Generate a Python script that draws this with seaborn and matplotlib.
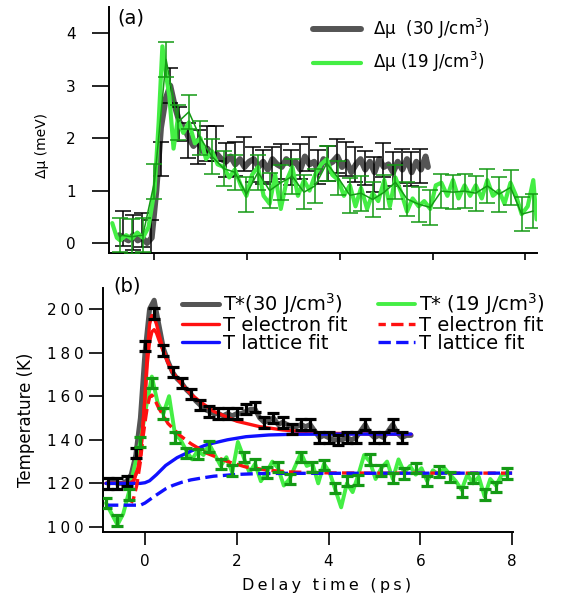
import numpy as np
import matplotlib
matplotlib.use("Agg")
import matplotlib.pyplot as plt
import seaborn as sns

# ------------------------------------------------------------------ panel (a)
top_t_gray = [-0.75, -0.65, -0.55, -0.45, -0.35, -0.25, -0.15, -0.05, 0.05, 0.15,
              0.25, 0.35, 0.45, 0.55, 0.65, 0.75, 0.85, 0.95, 1.05, 1.15,
              1.25, 1.35, 1.45, 1.55, 1.65, 1.75, 1.85, 1.95, 2.05, 2.15,
              2.25, 2.35, 2.45, 2.55, 2.65, 2.75, 2.85, 2.95, 3.05, 3.15,
              3.25, 3.35, 3.45, 3.55, 3.65, 3.75, 3.85, 3.95, 4.05, 4.15,
              4.25, 4.35, 4.45, 4.55, 4.65, 4.75, 4.85, 4.95, 5.05, 5.15,
              5.25, 5.35, 5.45, 5.55, 5.65, 5.75, 5.85, 5.9]
top_mu_gray = [0.15, 0.10, 0.05, 0.15, 0.05, 0.10, 0.00, 0.10, 1.00, 2.20,
               2.75, 3.00, 2.60, 2.30, 2.20, 2.00, 1.85, 1.95, 1.75, 1.80,
               1.65, 1.70, 1.60, 1.55, 1.65, 1.50, 1.60, 1.45, 1.55, 1.60,
               1.45, 1.55, 1.40, 1.60, 1.50, 1.45, 1.60, 1.50, 1.55, 1.40,
               1.65, 1.50, 1.55, 1.35, 1.60, 1.50, 1.55, 1.65, 1.45, 1.55,
               1.35, 1.50, 1.60, 1.40, 1.55, 1.35, 1.60, 1.45, 1.50, 1.35,
               1.55, 1.40, 1.60, 1.35, 1.55, 1.40, 1.65, 1.45]

top_t_black = [-0.66, -0.46, -0.26, -0.06, 0.14, 0.34, 0.54, 0.74, 0.94, 1.14,
               1.34, 1.54, 1.74, 1.94, 2.14, 2.34, 2.54, 2.74, 2.94, 3.14,
               3.34, 3.54, 3.74, 3.94, 4.14, 4.34, 4.54, 4.74, 4.94, 5.14,
               5.34, 5.54, 5.74]
top_mu_black = [0.28, 0.20, 0.25, 0.10, 1.60, 3.00, 2.27, 1.95, 1.83, 1.90,
                1.90, 1.58, 1.60, 1.70, 1.50, 1.45, 1.50, 1.55, 1.44, 1.55,
                1.70, 1.45, 1.52, 1.66, 1.60, 1.50, 1.43, 1.31, 1.58, 1.41,
                1.47, 1.41, 1.47]

top_t_lgreen = [-0.90, -0.80, -0.73, -0.60, -0.48, -0.36, -0.24, -0.12, 0.01, 0.10,
                0.18, 0.26, 0.33, 0.42, 0.51, 0.63, 0.75, 0.88, 1.00, 1.12,
                1.25, 1.37, 1.50, 1.62, 1.74, 1.87, 1.99, 2.11, 2.24, 2.36,
                2.49, 2.61, 2.73, 2.86, 2.98, 3.10, 3.23, 3.35, 3.47, 3.60,
                3.72, 3.84, 3.97, 4.09, 4.22, 4.34, 4.46, 4.59, 4.71, 4.83,
                4.96, 5.08, 5.20, 5.33, 5.45, 5.57, 5.70, 5.82, 5.95, 6.07,
                6.19, 6.32, 6.44, 6.56, 6.69, 6.81, 6.93, 7.06, 7.18, 7.30,
                7.43, 7.55, 7.68, 7.80, 7.92, 8.05, 8.17, 8.24]
top_mu_lgreen = [0.38, 0.10, 0.05, 0.15, 0.08, 0.20, 0.10, 0.30, 1.00, 2.30,
                 3.75, 3.20, 2.80, 1.80, 2.35, 2.10, 2.30, 1.90, 2.00, 1.60,
                 1.75, 1.50, 1.45, 1.25, 1.40, 1.10, 0.90, 1.30, 1.45, 0.90,
                 0.75, 1.30, 0.65, 1.20, 1.45, 0.90, 1.20, 1.00, 1.30, 1.50,
                 1.60, 1.30, 1.20, 0.90, 1.10, 0.70, 1.05, 0.65, 0.95, 0.80,
                 1.20, 0.70, 1.25, 0.95, 0.60, 0.85, 0.70, 0.80, 0.65, 1.10,
                 1.15, 0.90, 1.20, 0.85, 1.10, 0.90, 1.10, 0.85, 1.20, 0.90,
                 1.00, 0.75, 1.15, 0.90, 0.55, 0.70, 1.20, 0.45]

top_t_dgreen = [-0.73, -0.48, -0.24, 0.01, 0.26, 0.51, 0.75, 1.00, 1.25, 1.50,
                1.74, 1.99, 2.24, 2.49, 2.73, 2.98, 3.23, 3.47, 3.72, 3.97,
                4.22, 4.46, 4.71, 4.96, 5.20, 5.45, 5.70, 5.95, 6.19, 6.44,
                6.69, 6.93, 7.18, 7.43, 7.68, 7.92, 8.17]
top_mu_dgreen = [0.15, 0.12, 0.15, 1.17, 3.50, 2.30, 2.50, 2.00, 1.65, 1.42,
                 1.35, 0.93, 1.35, 1.00, 1.15, 1.27, 0.97, 1.09, 1.52, 1.24,
                 0.91, 0.95, 0.83, 0.97, 1.16, 0.84, 0.74, 0.68, 0.99, 0.97,
                 0.99, 0.95, 1.09, 0.93, 1.06, 0.55, 0.61]
top_err = 0.33

top_labels = ["\u0394\u03bc  (30 J/cm$^3$)", "\u0394\u03bc (19 J/cm$^3$)"]
top_yticks = [0, 1, 2, 3, 4]
top_xticks = [0, 2, 4, 6, 8]

# ------------------------------------------------------------------ panel (b)
bot_t_gray = [-0.8, -0.7, -0.6, -0.5, -0.4, -0.3, -0.2, -0.1, 0.0, 0.1,
              0.2, 0.3, 0.4, 0.5, 0.6, 0.7, 0.8, 0.9, 1.0, 1.1,
              1.2, 1.3, 1.4, 1.5, 1.6, 1.7, 1.8, 1.9, 2.0, 2.1,
              2.2, 2.3, 2.4, 2.5, 2.6, 2.7, 2.8, 2.9, 3.0, 3.1,
              3.2, 3.3, 3.4, 3.5, 3.6, 3.7, 3.8, 3.9, 4.0, 4.1,
              4.2, 4.3, 4.4, 4.5, 4.6, 4.7, 4.8, 4.9, 5.0, 5.1,
              5.2, 5.3, 5.4, 5.5, 5.6, 5.7, 5.8]
bot_T_gray = [120, 121, 120, 120, 121, 124, 133, 150, 180, 200,
              204, 193, 182, 176, 171, 168, 166, 163, 161, 158,
              156, 154, 153, 152, 152, 151, 152, 151, 152, 152,
              153, 154, 154, 150, 148, 149, 150, 147, 148, 147,
              146, 146, 147, 146, 147, 144, 141, 142, 141, 140,
              140, 140, 141, 140, 141, 144, 147, 143, 141, 142,
              141, 144, 147, 143, 141, 142, 142]

bot_t_black = [-0.8, -0.6, -0.4, -0.2, 0.0, 0.2, 0.4, 0.6, 0.8, 1.0,
               1.2, 1.4, 1.6, 1.8, 2.0, 2.2, 2.4, 2.6, 2.8, 3.0,
               3.2, 3.4, 3.6, 3.8, 4.0, 4.2, 4.4, 4.6, 4.8, 5.0,
               5.2, 5.4, 5.6]
bot_T_black = [120, 120, 121, 134, 183, 198, 181, 171, 166, 161,
               156, 153, 152, 152, 152, 154, 155, 148, 150, 148,
               145, 147, 147, 141, 141, 140, 141, 141, 147, 141,
               141, 147, 141]

bot_t_lgreen = [-0.85, -0.725, -0.6, -0.475, -0.35, -0.225, -0.1, 0.025, 0.15, 0.275,
                0.4, 0.525, 0.65, 0.775, 0.9, 1.025, 1.15, 1.275, 1.4, 1.525,
                1.65, 1.775, 1.9, 2.025, 2.15, 2.275, 2.4, 2.525, 2.65, 2.775,
                2.9, 3.025, 3.15, 3.275, 3.4, 3.525, 3.65, 3.775, 3.9, 4.025,
                4.15, 4.275, 4.4, 4.525, 4.65, 4.775, 4.9, 5.025, 5.15, 5.275,
                5.4, 5.525, 5.65, 5.775, 5.9, 6.025, 6.15, 6.275, 6.4, 6.525,
                6.65, 6.775, 6.9, 7.025, 7.15, 7.275, 7.4, 7.525, 7.65, 7.775,
                7.9]
bot_T_lgreen = [111, 106, 101, 106, 116, 128, 139, 155, 169, 157,
                152, 160, 143, 140, 135, 131, 135, 133, 138, 133,
                128, 132, 125, 139, 132, 125, 129, 121, 125, 130,
                127, 119, 122, 128, 134, 128, 129, 120, 129, 125,
                117, 109, 120, 116, 124, 133, 130, 122, 127, 130,
                122, 131, 125, 128, 124, 127, 121, 126, 124, 127,
                124, 121, 117, 124, 120, 123, 114, 122, 119, 124,
                124]

bot_t_dgreen = [-0.85, -0.6, -0.35, -0.1, 0.15, 0.4, 0.65, 0.9, 1.15, 1.4,
                1.65, 1.9, 2.15, 2.4, 2.65, 2.9, 3.15, 3.4, 3.65, 3.9,
                4.15, 4.4, 4.65, 4.9, 5.15, 5.4, 5.65, 5.9, 6.15, 6.4,
                6.65, 6.9, 7.15, 7.4, 7.65, 7.9]
bot_T_dgreen = [111, 103, 115, 139, 166, 152, 141, 134, 133.5, 137,
                129, 126, 132, 129, 125, 127.5, 122, 132, 127.5, 128.4,
                118, 121, 121.6, 131, 126, 122.5, 124.5, 127, 121, 125.5,
                123, 116, 122.5, 115, 118.3, 124.5]
bot_err = 2.4

fit_t30 = [-0.85, -0.35, -0.25, -0.15, -0.1, -0.05, 0.0, 0.05, 0.1, 0.15,
           0.2, 0.25, 0.3, 0.4, 0.5, 0.6, 0.8, 1.0, 1.2, 1.5,
           2.0, 2.5, 3.0, 3.5, 4.0, 5.0, 5.8]
fit_Te30 = [120, 120, 121, 127, 133, 145, 160, 180, 193, 197,
            196, 193, 189, 181, 175.5, 171, 165.5, 161, 157.5, 153,
            148.5, 146, 144.5, 143.6, 143, 142.6, 142.5]
fit_t30b = [-0.85, -0.35, -0.25, -0.15, -0.1, -0.05, 0.0, 0.05, 0.1, 0.15,
            0.2, 0.25, 0.3, 0.4, 0.5, 0.6]
fit_Te30b = [120, 120, 121, 127, 133, 145, 159, 175, 185, 189.5,
             190.5, 189, 186, 180.5, 175.5, 171]
fit_tl30 = [-0.85, -0.1, 0.0, 0.1, 0.25, 0.45, 0.7, 1.0, 1.35, 1.8,
            2.2, 2.7, 3.2, 4.0, 5.8]
fit_Tl30 = [120, 120, 120.3, 121.2, 124, 128.2, 131.8, 134.8, 137.8, 140,
            141.4, 142.2, 142.5, 142.6, 142.6]

fit_t19 = [-0.3, -0.25, -0.18, -0.1, -0.05, 0.0, 0.05, 0.1, 0.15, 0.2,
           0.3, 0.5, 0.75, 1.0, 1.35, 1.8, 2.2, 2.7, 3.2, 4.0,
           5.0, 8.0]
fit_Te19 = [111, 113, 119, 130, 140, 148, 155, 159.5, 160.5, 159,
            154.5, 147.5, 142.2, 138.2, 133.8, 130, 127.5, 126, 125.2, 124.8,
            124.7, 124.7]
fit_tl19 = [-0.85, -0.1, 0.0, 0.1, 0.2, 0.3, 0.45, 0.6, 0.8, 1.0,
            1.25, 1.5, 2.0, 2.5, 3.0, 8.0]
fit_Tl19 = [110, 110, 111, 112.5, 114, 115.4, 117.5, 119, 120.5, 121.6,
            122.5, 123.3, 124.1, 124.5, 124.6, 124.7]

bot_labels = ["T*(30 J/cm$^3$)", "T electron fit", "T lattice fit",
              "T* (19 J/cm$^3$)", "T electron fit", "T lattice fit"]
bot_yticks = [100, 120, 140, 160, 180, 200]
bot_xticks = [0, 2, 4, 6, 8]
xlabel_text = "Delay time (ps)"
ylabel_bot = "Temperature (K)"
ylabel_top = "\u0394\u03bc (meV)"

# ------------------------------------------------------------------ style
sns.set_theme(style="ticks")
plt.rcParams['font.family'] = ['DejaVu Sans']
plt.rcParams['axes.linewidth'] = 1.4
plt.rcParams['text.color'] = 'black'
plt.rcParams['axes.labelcolor'] = 'black'
plt.rcParams['xtick.color'] = 'black'
plt.rcParams['ytick.color'] = 'black'
plt.rcParams['axes.edgecolor'] = 'black'

GRAY = "#555555"
LGREEN = "#44ee44"
DGREEN = "#149a14"
RED = "#ff1010"
BLUE = "#1010ff"

W, H = 581, 599
fig = plt.figure(figsize=(W / 100, H / 100), dpi=100)
ax1 = fig.add_axes([109 / W, 1 - 253 / H, (537 - 109) / W, (253 - 7) / H])
ax2 = fig.add_axes([103 / W, 1 - 532 / H, (513 - 103) / W, (532 - 288) / H])


def line(ax, x, y, **kw):
    sns.lineplot(x=x, y=y, ax=ax, estimator=None, sort=False, legend=False, **kw)
    return ax.lines[-1]


# ---------------- panel (a)
h_gray = line(ax1, top_t_gray, top_mu_gray, color=GRAY, lw=4.3, zorder=2)
ax1.errorbar(top_t_black, top_mu_black, yerr=top_err, fmt="none", ecolor="black",
             elinewidth=1.1, capsize=6, capthick=1.1, zorder=3)
h_lg = line(ax1, top_t_lgreen, top_mu_lgreen, color=LGREEN, lw=3.0, zorder=4)
ax1.errorbar(top_t_dgreen, top_mu_dgreen, yerr=top_err, color=DGREEN, lw=1.1,
             elinewidth=1.1, capsize=6, capthick=1.1, zorder=5)

ax1.set_xlim(-0.97, 8.25)
ax1.set_ylim(-0.19, 4.5)
ax1.set_xticks(top_xticks)
ax1.set_xticklabels([])
ax1.set_yticks(top_yticks)
ax1.set_yticklabels([str(v) for v in top_yticks], fontsize=11)
ax1.tick_params(axis="y", length=12, width=1.2, pad=12)
ax1.tick_params(axis="x", length=5, width=1.2)
for s in ["top", "right"]:
    ax1.spines[s].set_visible(False)
ax1.set_ylabel(ylabel_top, fontsize=10)
ax1.yaxis.set_label_coords(-0.14, 0.435)
ax1.set_xlabel("")

leg1 = ax1.legend([h_gray, h_lg], top_labels, loc="upper left",
                  bbox_to_anchor=(313 / W, 1 - 17 / H), bbox_transform=fig.transFigure,
                  frameon=False, fontsize=12, handlelength=2.9, handletextpad=0.7,
                  borderpad=0, borderaxespad=0, labelspacing=0.55)

fig.text(117 / W, 1 - 8 / H, "(a)", fontsize=14, ha="left", va="top")

# ---------------- panel (b)
h_g30 = line(ax2, bot_t_gray, bot_T_gray, color=GRAY, lw=3.6, zorder=2)
h_g19 = line(ax2, bot_t_lgreen, bot_T_lgreen, color=LGREEN, lw=2.8, zorder=2)
h_re = line(ax2, fit_t30, fit_Te30, color=RED, lw=2.4, zorder=3)
line(ax2, fit_t30b, fit_Te30b, color=RED, lw=2.4, zorder=3)
h_bl = line(ax2, fit_tl30, fit_Tl30, color=BLUE, lw=2.4, zorder=3)
h_red = line(ax2, fit_t19, fit_Te19, color=RED, lw=2.4, zorder=3)
h_red.set_linestyle((1.5, (3.7, 1.6)))
h_bld = line(ax2, fit_tl19, fit_Tl19, color=BLUE, lw=2.4, zorder=3)
h_bld.set_linestyle((0, (3.7, 1.6)))
ax2.errorbar(bot_t_black, bot_T_black, yerr=bot_err, fmt="none", ecolor="black",
             elinewidth=2.3, capsize=4.5, capthick=2.3, zorder=5)
ax2.errorbar(bot_t_dgreen, bot_T_dgreen, yerr=bot_err, fmt="none", ecolor=DGREEN,
             elinewidth=2.3, capsize=4.5, capthick=2.3, zorder=5)

ax2.set_xlim(-0.915, 8.02)
ax2.set_ylim(97.7, 209.6)
ax2.set_xticks(bot_xticks)
ax2.set_xticklabels([str(v) for v in bot_xticks], fontsize=11)
ax2.set_yticks(bot_yticks)
ax2.set_yticklabels(["\u2005".join(str(v)) for v in bot_yticks], fontsize=11)
ax2.tick_params(axis="y", length=10, width=1.2, pad=4)
ax2.tick_params(axis="x", length=9.5, width=1.2, pad=6)
for s in ["top", "right"]:
    ax2.spines[s].set_visible(False)
ax2.set_xlabel("\u2009".join(xlabel_text), fontsize=11.5)
ax2.xaxis.set_label_coords(0.545, -0.19)
ax2.set_ylabel(ylabel_bot, fontsize=12)
ax2.yaxis.set_label_coords(-0.165, 0.46)

leg_handles = [h_g30, h_re, h_bl, h_g19, h_red, h_bld]
leg2 = ax2.legend(leg_handles, bot_labels, ncol=2, loc="upper left",
                  bbox_to_anchor=(182 / W, 1 - 291 / H), bbox_transform=fig.transFigure,
                  frameon=False, fontsize=14, handlelength=1.9, handletextpad=0.2,
                  borderpad=0, borderaxespad=0, labelspacing=-0.05, columnspacing=1.6)

fig.text(113 / W, 1 - 277 / H, "(b)", fontsize=14, ha="left", va="top")

fig.savefig("out.png", dpi=100)
